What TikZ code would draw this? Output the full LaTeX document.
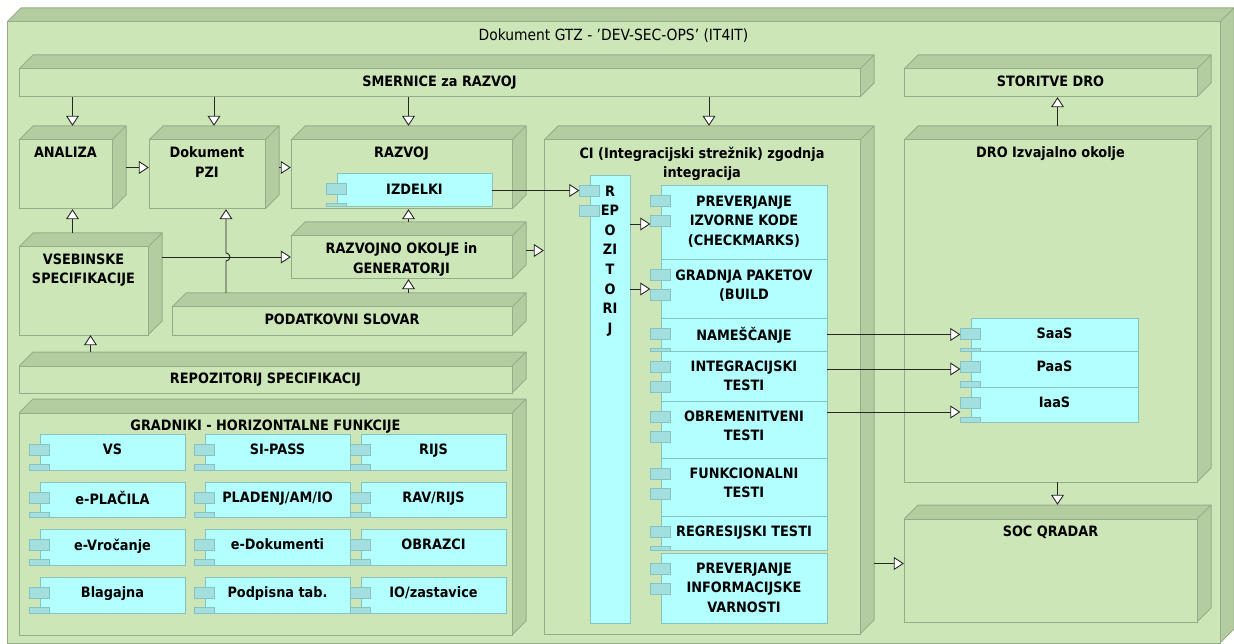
\documentclass[tikz,border=0pt]{standalone}
\usepackage{fontspec}
\setmainfont{DejaVu Sans Condensed}
\usetikzlibrary{math,fit,arrows.meta}

\definecolor{sprednja}{HTML}{CCE6B8}
\definecolor{stranska}{HTML}{B3CCA0}
\definecolor{robzel}{HTML}{94AD88}
\definecolor{kompcian}{HTML}{B3FFFF}
\definecolor{robcian}{HTML}{86C2C2}
\definecolor{vratacian}{HTML}{A3DFDF}

% vozlisce (kvader): ime, x1, y1, x2, y2, napis
\newcommand{\kvader}[6]{%
  \fill[stranska] (#2,#3) -- ++(\dep,-\dep) -- (#4+\dep,#3-\dep) -- (#4+\dep,#5-\dep) -- (#4,#5) -- cycle;
  \draw[rob] (#2,#3) -- ++(\dep,-\dep) -- (#4+\dep,#3-\dep) -- (#4+\dep,#5-\dep) -- (#4,#5) (#4,#3) -- ++(\dep,-\dep);
  \filldraw[rob, fill=sprednja] (#2,#3) rectangle (#4,#5);
  \node[fit={(#2,#3-\dep) (#4+\dep,#5)}, inner sep=0pt] (#1) {};
  \node[napis] (#1-t) at ({(#2+#4)/2},#3+6.5) {#6};
}
% komponenta: ime, x1, y1, x2, y2, napis
\newcommand{\komponenta}[6]{%
  \filldraw[robk, fill=kompcian] (#2,#3) rectangle (#4,#5);
  \pgfmathsetmacro{\vdno}{min(#3+41,#5)}
  \filldraw[robk, fill=vratacian] (#2-10.5,#3+10) rectangle (#2+9.5,#3+21);
  \filldraw[robk, fill=vratacian] (#2-10.5,#3+30) rectangle (#2+9.5,\vdno);
  \node[fit={(#2-10.5,#3) (#4,#5)}, inner sep=0pt] (#1) {};
  \node[napis] (#1-t) at ({(#2+#4)/2},#3+9.5) {#6};
}

\begin{document}
\begin{tikzpicture}[x=1pt, y=-1pt,
    rob/.style={draw=robzel, line width=1pt},
    robk/.style={draw=robcian, line width=1pt},
    napis/.style={anchor=north, align=center, inner sep=0pt, font=\bfseries\fontsize{14.3}{19.6}\selectfont},
    tok/.style={draw=black!85, line width=0.9pt, -{Triangle[length=10pt, width=13pt, fill=white]}}]
  \tikzmath{\dep = 14;}
  \fill[white] (0,0) rectangle (1234,644);
  \useasboundingbox (0,0) rectangle (1234,644);

  \kvader{gtz}{7}{22}{1220}{643}{\mdseries\fontsize{15.4}{20}\selectfont Dokument GTZ - 'DEV-SEC-OPS' (IT4IT)}
  \kvader{smernice}{19}{69}{860}{97}{SMERNICE za RAZVOJ}
  \kvader{storitve}{904}{69}{1197}{97}{STORITVE DRO}
  \kvader{analiza}{19}{140}{112}{209}{ANALIZA}
  \kvader{pzi}{149}{140}{265}{209}{Dokument\\PZI}
  \kvader{razvoj}{291}{140}{512}{209}{RAZVOJ}
  \kvader{ci}{544}{140}{860}{634}{CI (Integracijski strežnik) zgodnja\\integracija}
  \kvader{dro}{904}{140}{1197}{482}{DRO Izvajalno okolje}
  \kvader{vsebina}{19}{247}{148}{335}{VSEBINSKE\\SPECIFIKACIJE}
  \kvader{okolje}{291}{236}{512}{279}{RAZVOJNO OKOLJE in\\GENERATORJI}
  \kvader{slovar}{172}{307}{512}{335}{PODATKOVNI SLOVAR}
  \kvader{repspec}{19}{366}{512}{393}{REPOZITORIJ SPECIFIKACIJ}
  \kvader{gradniki}{19}{413}{512}{635}{GRADNIKI - HORIZONTALNE FUNKCIJE}
  \kvader{soc}{904}{519}{1197}{622}{SOC QRADAR}

  \komponenta{izdelki}{337}{174}{492}{207}{IZDELKI}
  \komponenta{repozitorij}{590}{176}{630}{623}{R\\EP\\O\\ZI\\T\\O\\RI\\J}
  \komponenta{checkmarx}{661}{186}{827}{260}{PREVERJANJE\\IZVORNE KODE\\(CHECKMARKS)}
  \komponenta{gradnja}{661}{260}{827}{318}{GRADNJA PAKETOV\\(BUILD}
  \komponenta{namescanje}{661}{318}{827}{351}{NAMEŠČANJE}
  \komponenta{integracija}{661}{351}{827}{401}{INTEGRACIJSKI\\TESTI}
  \komponenta{obremenitev}{661}{401}{827}{458}{OBREMENITVENI\\TESTI}
  \komponenta{funkcije}{661}{458}{827}{516}{FUNKCIONALNI\\TESTI}
  \komponenta{regresija}{661}{516}{827}{550}{REGRESIJSKI TESTI}
  \komponenta{varnost}{661}{553}{827}{623}{PREVERJANJE\\INFORMACIJSKE\\VARNOSTI}
  \komponenta{saas}{971}{318}{1138}{351}{SaaS}
  \komponenta{paas}{971}{351}{1138}{387}{PaaS}
  \komponenta{iaas}{971}{387}{1138}{422}{IaaS}

  % gradniki
  \komponenta{vs}{40}{434}{185}{470}{VS}
  \komponenta{sipass}{205}{434}{350}{470}{SI-PASS}
  \komponenta{rijs}{361}{434}{506}{470}{RIJS}
  \komponenta{eplacila}{40}{482}{185}{517}{e-PLAČILA}
  \komponenta{pladenj}{205}{482}{350}{517}{PLADENJ/AM/IO}
  \komponenta{ravrijs}{361}{482}{506}{517}{RAV/RIJS}
  \komponenta{evrocanje}{40}{529}{185}{565}{e-Vročanje}
  \komponenta{edokumenti}{205}{529}{350}{565}{e-Dokumenti}
  \komponenta{obrazci}{361}{529}{506}{565}{OBRAZCI}
  \komponenta{blagajna}{40}{577}{185}{613}{Blagajna}
  \komponenta{podpisna}{205}{577}{350}{613}{Podpisna tab.}
  \komponenta{zastavice}{361}{577}{506}{613}{IO/zastavice}

  % povezave
  \draw[tok] (smernice.south -| analiza.north) -- (analiza.north);
  \draw[tok] (smernice.south -| pzi.north) -- (pzi.north);
  \draw[tok] (smernice.south -| razvoj.north) -- (razvoj.north);
  \draw[tok] (smernice.south -| ci.north) -- (ci.north);
  \draw[tok] (dro.north) -- (storitve.south);
  \draw[tok] (dro.south) -- (soc.north);
  \draw[tok] (vsebina.north -| analiza.south) -- (analiza.south);
  \draw[tok] (repspec.north -| vsebina.south) -- (vsebina.south);
  \draw[tok] (analiza.east) -- (pzi.west);
  \draw[tok] (pzi.east) -- (razvoj.west);
  \draw[tok] (okolje.north) -- (razvoj.south);
  \draw[tok] (slovar.north -| okolje.south) -- (okolje.south);
  \draw[tok] (vsebina.east |- 0,257) -- (okolje.west |- 0,257);
  \draw[tok] (slovar.north -| 226,0) -- (226,261) arc[start angle=-90, end angle=90, radius=4pt] -- (pzi.south -| 226,0);
  \draw[tok] (okolje.east) -- (okolje.east -| ci.west);
  \draw[tok] (izdelki.east) -- (izdelki.east -| repozitorij.west);
  \draw[tok] (repozitorij.east |- 0,224) -- (checkmarx.west |- 0,224);
  \draw[tok] (repozitorij.east |- gradnja.west) -- (gradnja.west);
  \draw[tok] (namescanje.east) -- (saas.west);
  \draw[tok] (integracija.east |- paas.west) -- (paas.west);
  \draw[tok] (obremenitev.east |- 0,412) -- (iaas.west |- 0,412);
  \draw[tok] (ci.east |- soc.west) -- (soc.west);
\end{tikzpicture}
\end{document}
